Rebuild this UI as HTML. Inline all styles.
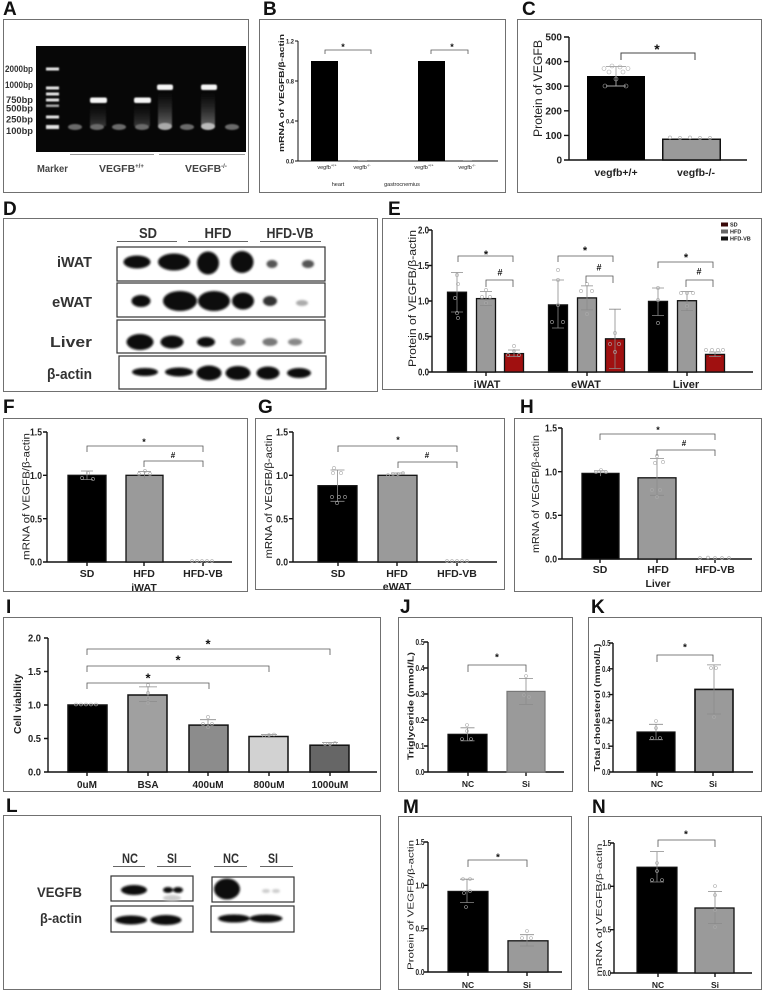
<!DOCTYPE html>
<html><head><meta charset="utf-8"><style>
html,body{margin:0;padding:0;background:#fff;}
svg{display:block;}
text{font-family:"Liberation Sans",Arial,sans-serif;}
.bx{fill:none;stroke:#707070;stroke-width:1;}
.ax{fill:none;stroke:#111;stroke-width:1.4;}
.br{fill:none;stroke:#555;stroke-width:0.8;}
.eb{fill:none;stroke:#8a8a8a;stroke-width:0.8;}
.pt{fill:none;stroke:#aaa;stroke-width:0.6;}
.L{font-size:19px;font-weight:bold;fill:#111;}
.tk{font-weight:bold;fill:#222;text-anchor:end;}
.xl{font-weight:bold;fill:#222;text-anchor:middle;}
.yl{fill:#222;text-anchor:middle;}
.bl{fill:#333;font-weight:bold;}
.st{text-anchor:middle;fill:#111;font-weight:bold;}
</style></head><body>
<svg width="764" height="991" viewBox="0 0 764 991" xmlns="http://www.w3.org/2000/svg">
<defs>
<filter id="gb" x="-30%" y="-80%" width="160%" height="260%"><feGaussianBlur stdDeviation="0.8"/></filter>
<filter id="wb" x="-30%" y="-80%" width="160%" height="260%"><feGaussianBlur stdDeviation="1.1"/></filter>
<linearGradient id="sm" x1="0" y1="0" x2="0" y2="1"><stop offset="0" stop-color="#333" stop-opacity="0"/><stop offset="1" stop-color="#666"/></linearGradient>
</defs>
<rect width="764" height="991" fill="#fff"/>

<!-- ===== A ===== -->
<text class="L" x="3" y="15">A</text>
<rect class="bx" x="3.5" y="19.5" width="245" height="173"/>
<rect x="36" y="46" width="210" height="106" fill="#070707"/>
<g filter="url(#gb)">
<g fill="#e4e4e4">
<rect x="46" y="67.5" width="13" height="3"/>
<rect x="46" y="86.5" width="13" height="3"/>
<rect x="46" y="92.5" width="13" height="3"/>
<rect x="46" y="98.5" width="13" height="3"/>
<rect x="46" y="104.5" width="13" height="2.5" fill="#aaa"/>
<rect x="46" y="115.5" width="13" height="3"/>
<rect x="46" y="125" width="13" height="4"/>
</g>
<rect x="158" y="92" width="14" height="34" fill="url(#sm)"/>
<rect x="201" y="92" width="14" height="34" fill="url(#sm)"/>
<rect x="90" y="104" width="16" height="22" fill="url(#sm)" opacity="0.5"/>
<rect x="134" y="104" width="16" height="22" fill="url(#sm)" opacity="0.5"/>
<rect x="90" y="97.5" width="17" height="5.5" rx="2" fill="#f5f5f5"/>
<rect x="134" y="97.5" width="17" height="5.5" rx="2" fill="#f5f5f5"/>
<rect x="157" y="84.5" width="16" height="5.5" rx="2" fill="#f5f5f5"/>
<rect x="201" y="84.5" width="16" height="5.5" rx="2" fill="#f5f5f5"/>
<g fill="#6a6a6a">
<ellipse cx="75" cy="127" rx="7" ry="3"/>
<ellipse cx="97" cy="127" rx="7" ry="3"/>
<ellipse cx="119" cy="127" rx="7" ry="3"/>
<ellipse cx="142" cy="127" rx="7" ry="3"/>
<ellipse cx="165" cy="126.5" rx="7" ry="3.5" fill="#aaa"/>
<ellipse cx="187" cy="127" rx="7" ry="3"/>
<ellipse cx="208" cy="126.5" rx="7" ry="3.5" fill="#bbb"/>
<ellipse cx="232" cy="127" rx="7" ry="3"/>
</g>
</g>
<g class="bl" font-size="9">
<text x="5" y="72" textLength="28" lengthAdjust="spacingAndGlyphs">2000bp</text>
<text x="5" y="88" textLength="28" lengthAdjust="spacingAndGlyphs">1000bp</text>
<text x="6" y="103" textLength="27" lengthAdjust="spacingAndGlyphs">750bp</text>
<text x="6" y="111.5" textLength="27" lengthAdjust="spacingAndGlyphs">500bp</text>
<text x="6" y="122.5" textLength="27" lengthAdjust="spacingAndGlyphs">250bp</text>
<text x="6" y="134" textLength="27" lengthAdjust="spacingAndGlyphs">100bp</text>
</g>
<path d="M70 154.5H154M159 154.5H245" stroke="#777" stroke-width="0.8"/>
<g font-size="10.5" font-weight="bold" fill="#444">
<text x="37" y="172" textLength="31" lengthAdjust="spacingAndGlyphs">Marker</text>
<text x="99" y="172">VEGFB<tspan font-size="6" dy="-4">+/+</tspan></text>
<text x="185" y="172">VEGFB<tspan font-size="6" dy="-4">-/-</tspan></text>
</g>

<!-- ===== B ===== -->
<text class="L" x="263" y="15">B</text>
<rect class="bx" x="259.5" y="19.5" width="246" height="173"/>
<path d="M298 41V161H498M295 41H298M295 81H298M295 121H298M295 161H298" fill="none" stroke="#111" stroke-width="1"/>
<g class="tk" font-size="6.5">
<text x="294" y="43.5" textLength="8" lengthAdjust="spacingAndGlyphs">1.2</text><text x="294" y="83.5" textLength="8" lengthAdjust="spacingAndGlyphs">0.8</text><text x="294" y="123.5" textLength="8" lengthAdjust="spacingAndGlyphs">0.4</text><text x="294" y="163.5" textLength="8" lengthAdjust="spacingAndGlyphs">0.0</text>
</g>
<rect x="311" y="61" width="27" height="100" fill="#000"/>
<rect x="418" y="61" width="27" height="100" fill="#000"/>
<path d="M358 160.5H367M463 160.5H472" stroke="#aaa" stroke-width="1"/>
<path class="br" d="M325 54V50H371V54M431 54V50H468V54"/>
<text class="st" x="343" y="50" font-size="9">*</text>
<text class="st" x="452" y="50" font-size="9">*</text>
<g font-size="5.5" fill="#222" text-anchor="middle">
<text x="327" y="169">vegfb<tspan font-size="4" dy="-2.5">+/+</tspan></text>
<text x="362" y="169">vegfb<tspan font-size="4" dy="-2.5">-/-</tspan></text>
<text x="424" y="169">vegfb<tspan font-size="4" dy="-2.5">+/+</tspan></text>
<text x="467" y="169">vegfb<tspan font-size="4" dy="-2.5">-/-</tspan></text>
<text x="338" y="186">heart</text>
<text x="402" y="186">gastrocnemius</text>
</g>
<text class="yl" transform="translate(284,93) rotate(-90)" font-size="7.5" font-weight="bold" textLength="118" lengthAdjust="spacingAndGlyphs">mRNA of VEGFB/β-actin</text>

<!-- ===== C ===== -->
<text class="L" x="522" y="15">C</text>
<rect class="bx" x="517.5" y="19.5" width="244" height="173"/>
<path class="ax" stroke-width="1.5" d="M569 37V160H747M564 37H569M564 61.6H569M564 86.2H569M564 110.8H569M564 135.4H569M564 160H569"/>
<g class="tk" font-size="10">
<text x="562" y="40.6">500</text><text x="562" y="65.2">400</text><text x="562" y="89.8">300</text><text x="562" y="114.4">200</text><text x="562" y="139">100</text><text x="562" y="163.6">0</text>
</g>
<rect x="587" y="76" width="58" height="84" fill="#000"/>
<rect x="662.75" y="139.25" width="57.5" height="20.75" fill="#9a9a9a" stroke="#111" stroke-width="1.5"/>
<path d="M616 66.5V86M606 66.5H626M606 86H626" stroke="#aaa" stroke-width="0.9" fill="none"/>
<g class="pt" stroke-width="0.8">
<circle cx="604" cy="68.5" r="2"/><circle cx="612" cy="66" r="2"/><circle cx="620" cy="67" r="2"/><circle cx="628" cy="68.5" r="2"/>
<circle cx="609" cy="72" r="2"/><circle cx="623" cy="72" r="2"/><circle cx="616" cy="79" r="2"/><circle cx="605" cy="86" r="2"/><circle cx="626" cy="86" r="2"/>
<circle cx="670" cy="137.5" r="1.6"/><circle cx="680" cy="138" r="1.6"/><circle cx="690" cy="137.5" r="1.6"/><circle cx="700" cy="138" r="1.6"/><circle cx="710" cy="138" r="1.6"/>
</g>
<path d="M621 60V53H695V60" fill="none" stroke="#444" stroke-width="1"/>
<text class="st" x="657" y="54" font-size="14">*</text>
<g class="xl" font-size="10.5">
<text x="616" y="176">vegfb+/+</text><text x="696" y="176">vegfb-/-</text>
</g>
<text class="yl" transform="translate(542,88.5) rotate(-90)" font-size="11.5" textLength="97" lengthAdjust="spacingAndGlyphs">Protein of VEGFB</text>

<!-- ===== D ===== -->
<text class="L" x="3" y="215">D</text>
<rect class="bx" x="3.5" y="218.5" width="374" height="173"/>
<g class="bl" font-size="15" text-anchor="middle">
<text x="148" y="238" textLength="18" lengthAdjust="spacingAndGlyphs">SD</text>
<text x="218" y="238" textLength="27" lengthAdjust="spacingAndGlyphs">HFD</text>
<text x="290" y="238" textLength="47" lengthAdjust="spacingAndGlyphs">HFD-VB</text>
</g>
<path d="M117 241.5H177M188 241.5H248M260 241.5H321" stroke="#666" stroke-width="0.9"/>
<g class="bl" font-size="15" text-anchor="end">
<text x="92" y="267" textLength="35" lengthAdjust="spacingAndGlyphs">iWAT</text>
<text x="92" y="307" textLength="40" lengthAdjust="spacingAndGlyphs">eWAT</text>
<text x="92" y="347" textLength="42" lengthAdjust="spacingAndGlyphs">Liver</text>
<text x="92" y="379" textLength="45" lengthAdjust="spacingAndGlyphs">β-actin</text>
</g>
<g fill="#fff" stroke="#333" stroke-width="1.2">
<rect x="117" y="247" width="208" height="34"/>
<rect x="117" y="283" width="208" height="34"/>
<rect x="117" y="320" width="208" height="33"/>
<rect x="119" y="356" width="207" height="33"/>
</g>
<g filter="url(#wb)" fill="#0a0a0a">
<ellipse cx="137" cy="262" rx="13.5" ry="6.5"/>
<ellipse cx="174" cy="262" rx="16" ry="8.5"/>
<ellipse cx="208" cy="263" rx="11" ry="11.5"/>
<ellipse cx="242" cy="262" rx="11.5" ry="11"/>
<ellipse cx="272" cy="264" rx="5.5" ry="4" fill="#555"/>
<ellipse cx="308" cy="264" rx="6" ry="4" fill="#555"/>
<ellipse cx="141" cy="301" rx="9.5" ry="6"/>
<ellipse cx="180" cy="301" rx="17" ry="10"/>
<ellipse cx="214" cy="301" rx="16" ry="10"/>
<ellipse cx="243" cy="301" rx="11" ry="8.5"/>
<ellipse cx="270" cy="301" rx="7" ry="5" fill="#333"/>
<ellipse cx="302" cy="303" rx="6" ry="3" fill="#aaa"/>
<ellipse cx="140" cy="342" rx="13.5" ry="8"/>
<ellipse cx="172" cy="342" rx="11.5" ry="6.5"/>
<ellipse cx="206" cy="342" rx="9" ry="5"/>
<ellipse cx="238" cy="342" rx="7.5" ry="4" fill="#777"/>
<ellipse cx="270" cy="342" rx="7.5" ry="4" fill="#777"/>
<ellipse cx="295" cy="342" rx="7" ry="3.5" fill="#888"/>
<ellipse cx="145" cy="372" rx="13" ry="4"/>
<ellipse cx="179" cy="372" rx="14" ry="4.5"/>
<ellipse cx="209" cy="373" rx="12.5" ry="7.5"/>
<ellipse cx="238" cy="373" rx="12.5" ry="7"/>
<ellipse cx="268" cy="373" rx="11.5" ry="6.5"/>
<ellipse cx="299" cy="373" rx="12" ry="5"/>
</g>

<!-- ===== E ===== -->
<text class="L" x="388" y="215">E</text>
<rect class="bx" x="382.5" y="218.5" width="379" height="171"/>
<path class="ax" stroke-width="1.5" d="M432 230V372H753M428 230H432M428 265.5H432M428 301H432M428 336.5H432M428 372H432M486 372V376M587 372V376M687 372V376"/>
<g class="tk" font-size="10.5">
<text x="429" y="233.7" textLength="11" lengthAdjust="spacingAndGlyphs">2.0</text><text x="429" y="269.2" textLength="11" lengthAdjust="spacingAndGlyphs">1.5</text><text x="429" y="304.7" textLength="11" lengthAdjust="spacingAndGlyphs">1.0</text><text x="429" y="340.2" textLength="11" lengthAdjust="spacingAndGlyphs">0.5</text><text x="429" y="375.7" textLength="11" lengthAdjust="spacingAndGlyphs">0.0</text>
</g>
<g stroke="#111" stroke-width="1.3">
<rect x="447.5" y="292.2" width="19" height="79.8" fill="#000"/>
<rect x="476.5" y="298.6" width="19" height="73.4" fill="#9a9a9a"/>
<rect x="504.5" y="353.6" width="19" height="18.4" fill="#a01010"/>
<rect x="548.5" y="304.9" width="19" height="67.1" fill="#000"/>
<rect x="577.5" y="297.9" width="19" height="74.1" fill="#9a9a9a"/>
<rect x="605.5" y="338.8" width="19" height="33.2" fill="#a01010"/>
<rect x="648.5" y="301.4" width="19" height="70.6" fill="#000"/>
<rect x="677.5" y="300.7" width="19" height="71.3" fill="#9a9a9a"/>
<rect x="705.5" y="354.4" width="19" height="17.6" fill="#a01010"/>
</g>
<path class="eb" d="M457 272.5V312M451 272.5H463M451 312H463M486 291.5V305.6M480 291.5H492M480 305.6H492M514 350V356.5M508 350H520M508 356.5H520M558 280V328M552 280H564M552 328H564M587 285.9V309.9M581 285.9H593M581 309.9H593M615 309.2V368.5M609 309.2H621M609 368.5H621M658 288V315.5M652 288H664M652 315.5H664M687 291.5V310.6M681 291.5H693M681 310.6H693M715 352V356.5M709 352H721M709 356.5H721"/>
<g class="pt" stroke-width="0.8">
<circle cx="457" cy="275" r="1.6"/><circle cx="458" cy="284" r="1.6"/><circle cx="455" cy="298" r="1.6"/><circle cx="457" cy="313" r="1.6"/><circle cx="458" cy="318" r="1.6"/>
<circle cx="486" cy="290" r="1.6"/><circle cx="482" cy="297" r="1.6"/><circle cx="490" cy="297" r="1.6"/><circle cx="486" cy="303" r="1.6"/>
<circle cx="514" cy="346" r="1.6"/><circle cx="514" cy="351" r="1.6"/><circle cx="508" cy="355" r="1.6"/><circle cx="519" cy="355" r="1.6"/>
<circle cx="558" cy="270" r="1.6"/><circle cx="558" cy="280" r="1.6"/><circle cx="558" cy="305" r="1.6"/><circle cx="552" cy="322" r="1.6"/><circle cx="563" cy="322" r="1.6"/>
<circle cx="587" cy="284" r="1.6"/><circle cx="581" cy="291" r="1.6"/><circle cx="592" cy="291" r="1.6"/><circle cx="587" cy="314" r="1.6"/>
<circle cx="615" cy="333" r="1.6"/><circle cx="610" cy="344" r="1.6"/><circle cx="619" cy="344" r="1.6"/><circle cx="615" cy="352" r="1.6"/>
<circle cx="658" cy="288" r="1.6"/><circle cx="658" cy="300" r="1.6"/><circle cx="658" cy="323" r="1.6"/>
<circle cx="681" cy="293" r="1.6"/><circle cx="687" cy="293" r="1.6"/><circle cx="693" cy="293" r="1.6"/><circle cx="687" cy="306" r="1.6"/>
<circle cx="706" cy="350" r="1.6"/><circle cx="712" cy="350" r="1.6"/><circle cx="718" cy="350" r="1.6"/><circle cx="723" cy="350" r="1.6"/>
</g>
<path class="br" stroke="#444" d="M458 262V256H513V262M486 287V280H513V287M558 262V256H613V262M586 283V276H613V283M658 268V262H713V268M686 287V280H713V287"/>
<g class="st" font-size="11">
<text x="486" y="258">*</text><text x="585" y="254">*</text><text x="686" y="261">*</text>
</g>
<g class="st" font-size="9" font-weight="normal">
<text x="500" y="275.5">#</text><text x="599" y="270.5">#</text><text x="699" y="274.5">#</text>
</g>
<rect x="721" y="222.5" width="7" height="4" fill="#3a0a0a"/>
<rect x="721" y="229.5" width="7" height="4" fill="#666"/>
<rect x="721" y="236.5" width="7" height="4" fill="#111"/>
<g font-size="5.5" font-weight="bold" fill="#222">
<text x="730" y="226.5">SD</text><text x="730" y="233.5">HFD</text><text x="730" y="240.5">HFD-VB</text>
</g>
<g class="xl" font-size="11">
<text x="487" y="388">iWAT</text><text x="586" y="388">eWAT</text><text x="686" y="388">Liver</text>
</g>
<text class="yl" transform="translate(416,298.5) rotate(-90)" font-size="11" textLength="137" lengthAdjust="spacingAndGlyphs">Protein of VEGFB/β-actin</text>

<!-- ===== F ===== -->
<text class="L" x="3" y="413">F</text>
<rect class="bx" x="3.5" y="418.5" width="244" height="173"/>
<path class="ax" stroke-width="1.5" d="M47 432V562H232M43 432H47M43 475.3H47M43 518.7H47M43 562H47M87 562V566M144 562V566M203 562V566"/>
<g class="tk" font-size="10">
<text x="42" y="435.6" textLength="12" lengthAdjust="spacingAndGlyphs">1.5</text><text x="42" y="478.9" textLength="12" lengthAdjust="spacingAndGlyphs">1.0</text><text x="42" y="522.3" textLength="12" lengthAdjust="spacingAndGlyphs">0.5</text><text x="42" y="565.6" textLength="12" lengthAdjust="spacingAndGlyphs">0.0</text>
</g>
<rect x="68" y="475.3" width="38" height="86.7" fill="#000" stroke="#111" stroke-width="1.3"/>
<rect x="126" y="475.3" width="37" height="86.7" fill="#9a9a9a" stroke="#111" stroke-width="1.3"/>
<path class="eb" d="M87 471V479.6M81 471H93M81 479.6H93M144.5 471.5V478.5M138 471.5H151"/>
<g class="pt" stroke-width="0.8">
<circle cx="82" cy="478" r="1.6"/><circle cx="88" cy="473" r="1.6"/><circle cx="93" cy="479" r="1.6"/>
<circle cx="139" cy="474" r="1.6"/><circle cx="145" cy="471" r="1.6"/><circle cx="150" cy="474" r="1.6"/>
<circle cx="192" cy="561" r="1.4"/><circle cx="197" cy="561" r="1.4"/><circle cx="202" cy="561" r="1.4"/><circle cx="207" cy="561" r="1.4"/><circle cx="212" cy="561" r="1.4"/>
</g>
<path class="br" d="M87 452V446H203V452M144 467V461H203V467"/>
<text class="st" x="144" y="445" font-size="9">*</text>
<text class="st" x="173" y="458" font-size="8" font-weight="normal">#</text>
<g class="xl" font-size="10.5">
<text x="87" y="577">SD</text><text x="144" y="577">HFD</text><text x="203" y="577">HFD-VB</text><text x="144" y="591">iWAT</text>
</g>
<text class="yl" transform="translate(29.5,496.5) rotate(-90)" font-size="10.5" textLength="127" lengthAdjust="spacingAndGlyphs">mRNA of VEGFB/β-actin</text>

<!-- ===== G ===== -->
<text class="L" x="258" y="413">G</text>
<rect class="bx" x="255.5" y="418.5" width="249" height="171"/>
<path class="ax" stroke-width="1.5" d="M293 432V562H497M289 432H293M289 475.3H293M289 518.7H293M289 562H293M338 562V566M397 562V566M457 562V566"/>
<g class="tk" font-size="10">
<text x="288" y="435.6" textLength="12" lengthAdjust="spacingAndGlyphs">1.5</text><text x="288" y="478.9" textLength="12" lengthAdjust="spacingAndGlyphs">1.0</text><text x="288" y="522.3" textLength="12" lengthAdjust="spacingAndGlyphs">0.5</text><text x="288" y="565.6" textLength="12" lengthAdjust="spacingAndGlyphs">0.0</text>
</g>
<rect x="318" y="485.7" width="39" height="76.3" fill="#000" stroke="#111" stroke-width="1.3"/>
<rect x="378" y="475.3" width="39" height="86.7" fill="#9a9a9a" stroke="#111" stroke-width="1.3"/>
<path class="eb" d="M337.5 470V501.3M330.5 470H344.5M330.5 501.3H344.5M397.5 473V477M391 473H404"/>
<g class="pt" stroke-width="0.8">
<circle cx="334" cy="468" r="1.6"/><circle cx="333" cy="473" r="1.6"/><circle cx="341" cy="473" r="1.6"/>
<circle cx="332" cy="497" r="1.6"/><circle cx="339" cy="497" r="1.6"/><circle cx="345" cy="497" r="1.6"/><circle cx="337" cy="503" r="1.6"/>
<circle cx="388" cy="475" r="1.5"/><circle cx="393" cy="474" r="1.5"/><circle cx="398" cy="474" r="1.5"/><circle cx="403" cy="473" r="1.5"/>
<circle cx="447" cy="561" r="1.4"/><circle cx="452" cy="561" r="1.4"/><circle cx="457" cy="561" r="1.4"/><circle cx="462" cy="561" r="1.4"/><circle cx="467" cy="561" r="1.4"/>
</g>
<path class="br" d="M338 452V446H457V452M398 468V462H457V468"/>
<text class="st" x="398" y="443" font-size="9">*</text>
<text class="st" x="427" y="458" font-size="8" font-weight="normal">#</text>
<g class="xl" font-size="10.5">
<text x="338" y="577">SD</text><text x="397" y="577">HFD</text><text x="457" y="577">HFD-VB</text><text x="397" y="590">eWAT</text>
</g>
<text class="yl" transform="translate(272,496.5) rotate(-90)" font-size="10.5" textLength="124" lengthAdjust="spacingAndGlyphs">mRNA of VEGFB/β-actin</text>

<!-- ===== H ===== -->
<text class="L" x="520" y="413">H</text>
<rect class="bx" x="514.5" y="418.5" width="247" height="173"/>
<path class="ax" stroke-width="1.5" d="M562 428V559H752M558 428H562M558 471.7H562M558 515.3H562M558 559H562M600 559V563M657 559V563M715 559V563"/>
<g class="tk" font-size="10">
<text x="557" y="431.6" textLength="12" lengthAdjust="spacingAndGlyphs">1.5</text><text x="557" y="475.3" textLength="12" lengthAdjust="spacingAndGlyphs">1.0</text><text x="557" y="518.9" textLength="12" lengthAdjust="spacingAndGlyphs">0.5</text><text x="557" y="562.6" textLength="12" lengthAdjust="spacingAndGlyphs">0.0</text>
</g>
<rect x="582" y="473.4" width="37" height="85.6" fill="#000" stroke="#111" stroke-width="1.3"/>
<rect x="638" y="477.8" width="38" height="81.2" fill="#9a9a9a" stroke="#111" stroke-width="1.3"/>
<path class="eb" d="M600.5 470.8V476.1M594 470.8H607M657 458.6V495.3M650 458.6H664M650 495.3H664"/>
<g class="pt" stroke-width="0.8">
<circle cx="596" cy="472" r="1.5"/><circle cx="601" cy="470" r="1.5"/><circle cx="606" cy="472" r="1.5"/>
<circle cx="657" cy="456" r="1.6"/><circle cx="655" cy="463" r="1.6"/><circle cx="663" cy="462" r="1.6"/><circle cx="652" cy="490" r="1.6"/><circle cx="660" cy="490" r="1.6"/><circle cx="657" cy="497" r="1.6"/>
<circle cx="700" cy="558" r="1.4"/><circle cx="708" cy="557.5" r="1.4"/><circle cx="715" cy="558" r="1.4"/><circle cx="722" cy="558" r="1.4"/><circle cx="729" cy="558" r="1.4"/>
</g>
<path class="br" d="M600 440V434H715V440M657 456V450H715V456"/>
<text class="st" x="658" y="433" font-size="9">*</text>
<text class="st" x="684" y="446" font-size="8" font-weight="normal">#</text>
<g class="xl" font-size="10.5">
<text x="600" y="573">SD</text><text x="658" y="573">HFD</text><text x="715" y="573">HFD-VB</text><text x="658" y="587">Liver</text>
</g>
<text class="yl" transform="translate(539,494) rotate(-90)" font-size="10.5" textLength="118" lengthAdjust="spacingAndGlyphs">mRNA of VEGFB/β-actin</text>

<!-- ===== I ===== -->
<text class="L" x="6" y="613">I</text>
<rect class="bx" x="3.5" y="617.5" width="377" height="174"/>
<path class="ax" stroke-width="1.5" d="M48 638V772H377M44 638H48M44 671.5H48M44 705H48M44 738.5H48M44 772H48M87 772V776M148 772V776M208 772V776M269 772V776M330 772V776"/>
<g class="tk" font-size="10">
<text x="41" y="641.6" textLength="13" lengthAdjust="spacingAndGlyphs">2.0</text><text x="41" y="675.1" textLength="13" lengthAdjust="spacingAndGlyphs">1.5</text><text x="41" y="708.6" textLength="13" lengthAdjust="spacingAndGlyphs">1.0</text><text x="41" y="742.1" textLength="13" lengthAdjust="spacingAndGlyphs">0.5</text><text x="41" y="775.6" textLength="13" lengthAdjust="spacingAndGlyphs">0.0</text>
</g>
<g stroke="#111" stroke-width="1.5">
<rect x="68" y="705" width="39" height="67" fill="#000"/>
<rect x="128" y="695" width="39" height="77" fill="#a0a0a0"/>
<rect x="189" y="725.1" width="39" height="46.9" fill="#8c8c8c"/>
<rect x="249" y="736.5" width="39" height="35.5" fill="#d2d2d2"/>
<rect x="310" y="745.2" width="39" height="26.8" fill="#666"/>
</g>
<path class="eb" d="M148 686.9V701.6M139 686.9H157M139 701.6H157M208 719.7V729.8M200 719.7H216M269 734.5V737.8M261 734.5H277M330 742.5V746.5M322 742.5H338"/>
<g class="pt" stroke-width="0.8">
<circle cx="76" cy="704.5" r="1.5"/><circle cx="81" cy="704.5" r="1.5"/><circle cx="86" cy="704.5" r="1.5"/><circle cx="91" cy="704.5" r="1.5"/><circle cx="96" cy="704.5" r="1.5"/>
<circle cx="148" cy="685" r="1.6"/><circle cx="148" cy="693" r="1.6"/><circle cx="148" cy="698" r="1.6"/><circle cx="148" cy="703" r="1.6"/>
<circle cx="208" cy="717" r="1.6"/><circle cx="203" cy="724" r="1.6"/><circle cx="212" cy="724" r="1.6"/><circle cx="208" cy="727" r="1.6"/>
<circle cx="264" cy="736" r="1.5"/><circle cx="269" cy="735" r="1.5"/><circle cx="274" cy="734.5" r="1.5"/>
<circle cx="325" cy="744" r="1.5"/><circle cx="330" cy="744" r="1.5"/><circle cx="335" cy="743" r="1.5"/>
</g>
<path class="br" d="M87 689V683H209V689M87 672V666H269V672M87 655V649H330V655"/>
<g class="st" font-size="13">
<text x="148" y="682.4">*</text><text x="178" y="664.4">*</text><text x="208" y="648.4">*</text>
</g>
<g class="xl" font-size="10">
<text x="87" y="788">0uM</text><text x="148" y="788">BSA</text><text x="208" y="788">400uM</text><text x="269" y="788">800uM</text><text x="330" y="788">1000uM</text>
</g>
<text class="yl" transform="translate(21,704) rotate(-90)" font-size="10" font-weight="bold" textLength="60" lengthAdjust="spacingAndGlyphs">Cell viability</text>

<!-- ===== J ===== -->
<text class="L" x="400" y="613">J</text>
<rect class="bx" x="398.5" y="617.5" width="174" height="174"/>
<path class="ax" stroke-width="1.4" d="M428 642V772H564M424 642H428M424 668H428M424 694H428M424 720H428M424 746H428M424 772H428M468 772V776M526 772V776"/>
<g class="tk" font-size="8.5">
<text x="424.5" y="645" textLength="9" lengthAdjust="spacingAndGlyphs">0.5</text><text x="424.5" y="671" textLength="9" lengthAdjust="spacingAndGlyphs">0.4</text><text x="424.5" y="697" textLength="9" lengthAdjust="spacingAndGlyphs">0.3</text><text x="424.5" y="723" textLength="9" lengthAdjust="spacingAndGlyphs">0.2</text><text x="424.5" y="749" textLength="9" lengthAdjust="spacingAndGlyphs">0.1</text><text x="424.5" y="775" textLength="9" lengthAdjust="spacingAndGlyphs">0.0</text>
</g>
<rect x="448" y="734.3" width="39" height="37.7" fill="#000" stroke="#111" stroke-width="1.2"/>
<rect x="507" y="691.4" width="38" height="80.6" fill="#9a9a9a" stroke="#777" stroke-width="1.2"/>
<path class="eb" d="M467.5 727.8V740.8M460.5 727.8H474.5M460.5 740.8H474.5M526 678.4V704.4M519 678.4H533M519 704.4H533"/>
<g class="pt" stroke-width="0.8">
<circle cx="467" cy="725" r="1.5"/><circle cx="467" cy="731" r="1.5"/><circle cx="462" cy="739" r="1.5"/><circle cx="471" cy="739" r="1.5"/>
<circle cx="526" cy="676" r="1.5"/><circle cx="524" cy="695" r="1.5"/><circle cx="529" cy="697" r="1.5"/>
</g>
<path class="br" d="M468 672V665H526V672"/>
<text class="st" x="497" y="660.7" font-size="10">*</text>
<g class="xl" font-size="8.5">
<text x="468" y="787">NC</text><text x="526" y="787">Si</text>
</g>
<text class="yl" transform="translate(413.5,706) rotate(-90)" font-size="8.5" font-weight="bold" textLength="108" lengthAdjust="spacingAndGlyphs">Triglyceride (mmol/L)</text>

<!-- ===== K ===== -->
<text class="L" x="591" y="613">K</text>
<rect class="bx" x="588.5" y="617.5" width="173" height="174"/>
<path class="ax" stroke-width="1.4" d="M613 643V772H753M609 643H613M609 668.8H613M609 694.6H613M609 720.4H613M609 746.2H613M609 772H613M657 772V776M713 772V776"/>
<g class="tk" font-size="8.5">
<text x="610.5" y="646" textLength="8.5" lengthAdjust="spacingAndGlyphs">0.5</text><text x="610.5" y="671.8" textLength="8.5" lengthAdjust="spacingAndGlyphs">0.4</text><text x="610.5" y="697.6" textLength="8.5" lengthAdjust="spacingAndGlyphs">0.3</text><text x="610.5" y="723.4" textLength="8.5" lengthAdjust="spacingAndGlyphs">0.2</text><text x="610.5" y="749.2" textLength="8.5" lengthAdjust="spacingAndGlyphs">0.1</text><text x="610.5" y="775" textLength="8.5" lengthAdjust="spacingAndGlyphs">0.0</text>
</g>
<rect x="637" y="732" width="38" height="40" fill="#000" stroke="#111" stroke-width="1.2"/>
<rect x="695" y="689.4" width="38" height="82.6" fill="#9a9a9a" stroke="#111" stroke-width="1.6"/>
<path class="eb" d="M656 724.3V739.7M649 724.3H663M649 739.7H663M714 664.9V714M707 664.9H721M707 714H721"/>
<g class="pt" stroke-width="0.8">
<circle cx="656" cy="721" r="1.5"/><circle cx="656" cy="728" r="1.5"/><circle cx="652" cy="738" r="1.5"/><circle cx="660" cy="738" r="1.5"/>
<circle cx="711" cy="668" r="1.5"/><circle cx="716" cy="668" r="1.5"/><circle cx="714" cy="717" r="1.5"/>
</g>
<path class="br" d="M657 662V655H713V662"/>
<text class="st" x="685" y="650.7" font-size="10">*</text>
<g class="xl" font-size="8.5">
<text x="657" y="787">NC</text><text x="713" y="787">Si</text>
</g>
<text class="yl" transform="translate(600,707.5) rotate(-90)" font-size="8" font-weight="bold" textLength="128" lengthAdjust="spacingAndGlyphs">Total cholesterol (mmol/L)</text>

<!-- ===== L ===== -->
<text class="L" x="6" y="812">L</text>
<rect class="bx" x="3.5" y="815.5" width="377" height="174"/>
<g class="bl" font-size="14" text-anchor="middle">
<text x="130" y="863" textLength="16" lengthAdjust="spacingAndGlyphs">NC</text>
<text x="172" y="863" textLength="10" lengthAdjust="spacingAndGlyphs">SI</text>
<text x="231" y="863" textLength="16" lengthAdjust="spacingAndGlyphs">NC</text>
<text x="273" y="863" textLength="10" lengthAdjust="spacingAndGlyphs">SI</text>
</g>
<path d="M113 866.5H145M157 866.5H191M214 866.5H247M260 866.5H293" stroke="#666" stroke-width="0.9"/>
<g class="bl" font-size="14" text-anchor="end">
<text x="82" y="897" textLength="45" lengthAdjust="spacingAndGlyphs">VEGFB</text>
<text x="82" y="923" textLength="42" lengthAdjust="spacingAndGlyphs">β-actin</text>
</g>
<g fill="#fff" stroke="#333" stroke-width="1.2">
<rect x="111" y="876" width="82" height="25"/>
<rect x="212" y="877" width="82" height="25"/>
<rect x="111" y="906" width="82" height="26"/>
<rect x="211" y="906" width="83" height="26"/>
</g>
<g filter="url(#wb)" fill="#0a0a0a">
<ellipse cx="134" cy="890" rx="13" ry="5"/>
<ellipse cx="168" cy="890" rx="5" ry="3"/>
<ellipse cx="178" cy="890" rx="5" ry="3"/>
<ellipse cx="172" cy="898" rx="9" ry="3" fill="#ccc"/>
<ellipse cx="227" cy="889" rx="13" ry="10.5"/>
<ellipse cx="266" cy="891" rx="4" ry="2" fill="#ccc"/>
<ellipse cx="276" cy="891" rx="4" ry="2" fill="#ccc"/>
<ellipse cx="131" cy="920" rx="16" ry="4.5"/>
<ellipse cx="166" cy="920" rx="15.5" ry="5"/>
<ellipse cx="234" cy="918.5" rx="16" ry="4"/>
<ellipse cx="266" cy="918.5" rx="16.5" ry="4"/>
</g>

<!-- ===== M ===== -->
<text class="L" x="403" y="813">M</text>
<rect class="bx" x="398.5" y="816.5" width="173" height="173"/>
<path class="ax" stroke-width="1.4" d="M428 842V972H562M424 842H428M424 885.3H428M424 928.7H428M424 972H428M468 972V976M527 972V976"/>
<g class="tk" font-size="8.5">
<text x="424.5" y="845" textLength="9" lengthAdjust="spacingAndGlyphs">1.5</text><text x="424.5" y="888.3" textLength="9" lengthAdjust="spacingAndGlyphs">1.0</text><text x="424.5" y="931.7" textLength="9" lengthAdjust="spacingAndGlyphs">0.5</text><text x="424.5" y="975" textLength="9" lengthAdjust="spacingAndGlyphs">0.0</text>
</g>
<rect x="448" y="891.4" width="40" height="80.6" fill="#000" stroke="#111" stroke-width="1.2"/>
<rect x="508" y="940.8" width="40" height="31.2" fill="#9a9a9a" stroke="#111" stroke-width="1.3"/>
<path class="eb" d="M467 879.2V902.6M460 879.2H474M460 902.6H474M527 934.7V946M520 934.7H534M520 946H534"/>
<g class="pt" stroke-width="0.8">
<circle cx="463" cy="879" r="1.5"/><circle cx="470" cy="879" r="1.5"/><circle cx="464" cy="893" r="1.5"/><circle cx="470" cy="891" r="1.5"/><circle cx="466" cy="907" r="1.5"/>
<circle cx="527" cy="931" r="1.5"/><circle cx="522" cy="938" r="1.5"/><circle cx="531" cy="938" r="1.5"/>
</g>
<path class="br" d="M468 867V860H527V867"/>
<text class="st" x="498" y="860.7" font-size="10">*</text>
<g class="xl" font-size="8.5">
<text x="468" y="988">NC</text><text x="527" y="988">Si</text>
</g>
<text class="yl" transform="translate(413.5,905) rotate(-90)" font-size="8.5" textLength="130" lengthAdjust="spacingAndGlyphs">Protein of VEGFB/β-actin</text>

<!-- ===== N ===== -->
<text class="L" x="592" y="813">N</text>
<rect class="bx" x="588.5" y="816.5" width="173" height="173"/>
<path class="ax" stroke-width="1.4" d="M614 843V973H752M610 843H614M610 886.3H614M610 929.7H614M610 973H614M658 973V977M715 973V977"/>
<g class="tk" font-size="8.5">
<text x="611" y="846" textLength="8.5" lengthAdjust="spacingAndGlyphs">1.5</text><text x="611" y="889.3" textLength="8.5" lengthAdjust="spacingAndGlyphs">1.0</text><text x="611" y="932.7" textLength="8.5" lengthAdjust="spacingAndGlyphs">0.5</text><text x="611" y="976" textLength="8.5" lengthAdjust="spacingAndGlyphs">0.0</text>
</g>
<rect x="637" y="867.2" width="40" height="105.8" fill="#000" stroke="#111" stroke-width="1.2"/>
<rect x="695" y="908" width="39" height="65" fill="#9a9a9a" stroke="#111" stroke-width="1.3"/>
<path class="eb" d="M657 851.6V882M650 851.6H664M650 882H664M715 891.5V923.6M708 891.5H722M708 923.6H722"/>
<g class="pt" stroke-width="0.8">
<circle cx="657" cy="863" r="1.5"/><circle cx="657" cy="871" r="1.5"/><circle cx="652" cy="880" r="1.5"/><circle cx="662" cy="880" r="1.5"/>
<circle cx="715" cy="886" r="1.5"/><circle cx="715" cy="895" r="1.5"/><circle cx="715" cy="910" r="1.5"/><circle cx="715" cy="927" r="1.5"/>
</g>
<path class="br" d="M658 847V840H715V847"/>
<text class="st" x="686" y="837.7" font-size="10">*</text>
<g class="xl" font-size="8.5">
<text x="658" y="988">NC</text><text x="715" y="988">Si</text>
</g>
<text class="yl" transform="translate(602,910) rotate(-90)" font-size="8.5" textLength="133" lengthAdjust="spacingAndGlyphs">mRNA of VEGFB/β-actin</text>
</svg>
</body></html>
